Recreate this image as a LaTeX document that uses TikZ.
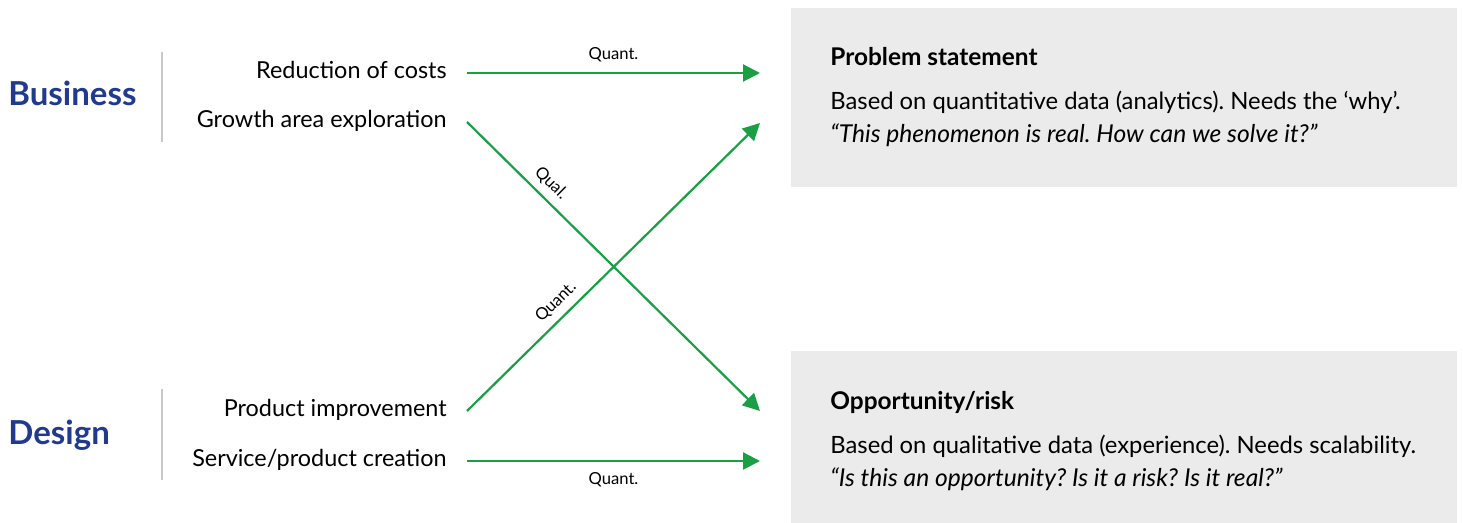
\documentclass[tikz,border=0pt]{standalone}
\usepackage{fontspec}
\setmainfont{Lato}
\usetikzlibrary{arrows.meta}

\definecolor{flowgreen}{HTML}{1A9F45}
\definecolor{areablue}{HTML}{1F3A8F}
\definecolor{panelgray}{HTML}{EBEBEB}
\definecolor{rulegray}{HTML}{C8C8C8}

\frenchspacing

\begin{document}
\begin{tikzpicture}[x=0.5pt, y=-0.5pt,
    area/.style={anchor=base west, inner sep=0pt, text=areablue, font=\fontsize{16.5}{19}\selectfont\bfseries},
    item/.style={anchor=east, inner xsep=10pt, inner ysep=0pt, text height=6pt, text depth=0pt, font=\fontsize{11.7}{14}\selectfont},
    flow/.style={flowgreen, line width=1.1pt, -{Triangle[length=8.5pt, width=8.5pt]}},
    tag/.style={inner sep=3.5pt, text=black, font=\fontsize{8.3}{10}\selectfont},
    head/.style={anchor=base west, inner sep=0pt, font=\fontsize{12.2}{14}\selectfont\bfseries},
    body/.style={anchor=base west, inner sep=0pt, font=\fontsize{11.9}{14}\selectfont},
    quote/.style={anchor=base west, inner sep=0pt, font=\fontsize{12.3}{14}\selectfont\itshape}]
    \useasboundingbox (0,0) rectangle (1463,523);

    % grey panels on the right
    \fill[panelgray] (791,8) rectangle (1457,187);
    \fill[panelgray] (791,351) rectangle (1457,523);

    % the two areas with their divider
    \node[area] (bus) at (8,106) {Business};
    \draw[rulegray, line width=0.8pt] (162,52) -- (162,142);

    \node[area] (des) at (8,445) {Design};
    \draw[rulegray, line width=0.8pt] (162,389) -- (162,480);

    % drivers
    \node[item] (rc) at (467,73) {Reduction of costs};
    \node[item] (ga) at (467,122) {Growth area exploration};
    \node[item] (pi) at (467,411) {Product improvement};
    \node[item] (sc) at (467,461) {Service/product creation};

    % where the arrows land
    \coordinate (ps1) at (760,73);
    \coordinate (ps2) at (760,123);
    \coordinate (or1) at (760,411);
    \coordinate (or2) at (760,461);

    % panel texts
    \node[head] (pst) at (830,66) {Problem statement};
    \node[body] (psb) at (830,110) {Based on quantitative data (analytics). Needs the ‘why’.};
    \node[quote] (psq) at (830,143) {“This phenomenon is real. How can we solve it?”};

    \node[head] (ort) at (830,410) {Opportunity/risk};
    \node[body] (orb) at (830,454) {Based on qualitative data (experience). Needs scalability.};
    \node[quote] (orq) at (830,487) {“Is this an opportunity? Is it a risk? Is it real?”};

    % arrows
    \draw[flow] (rc.east) -- node[tag, above, inner sep=5pt] (q1) {Quant.} (ps1);
    \draw[flow] (ga.east) -- node[tag, pos=0.25, sloped, above] (q2) {Qual.} (or1);
    \draw[flow] (pi.east) -- node[tag, pos=0.34, sloped, above] (q3) {Quant.} (ps2);
    \draw[flow] (sc.east) -- node[tag, below, inner sep=5pt] (q4) {Quant.} (or2);
\end{tikzpicture}
\end{document}
